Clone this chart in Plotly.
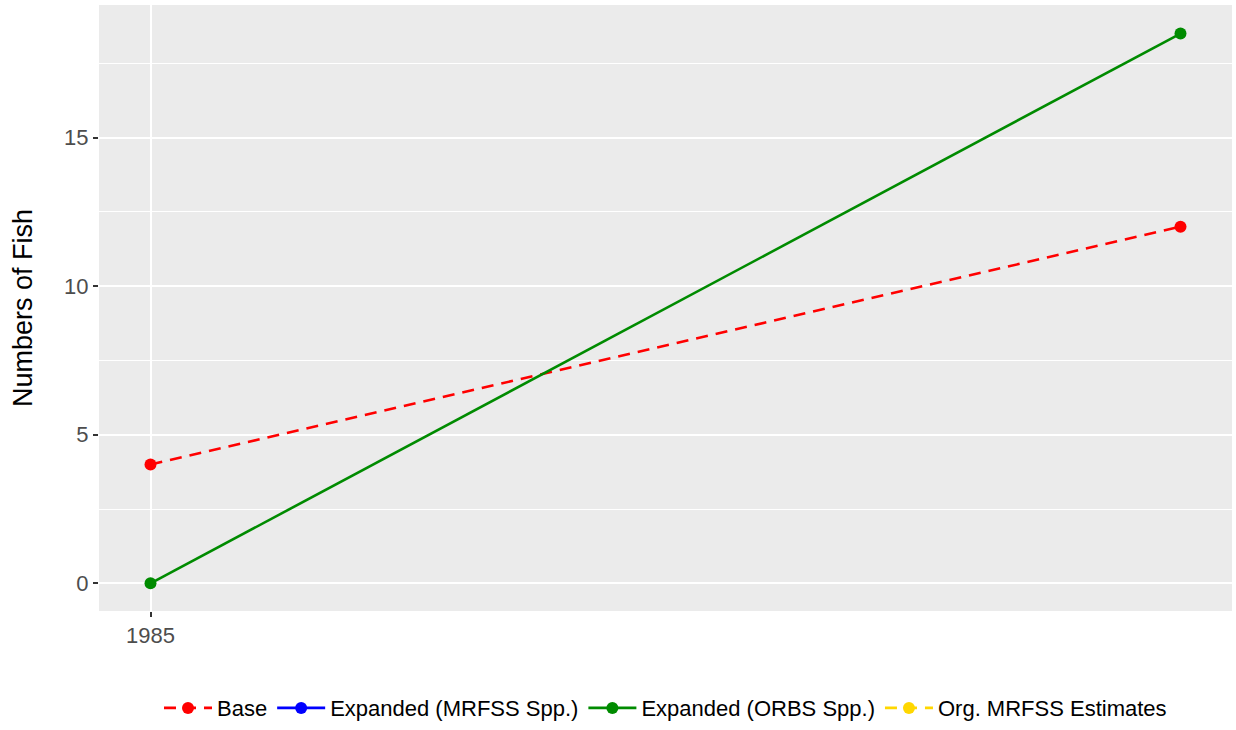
import plotly.graph_objects as go

# Annual estimates of fish numbers by method
years = [1985, 1986]
base = [4.0, 12.0]
expanded_orbs = [0.0, 18.5]
expanded_mrfss = [None]   # no values for this series
org_mrfss = [None]        # no values for this series

FONT = "Liberation Sans, Arial, sans-serif"

fig = go.Figure()

fig.add_trace(go.Scatter(
    x=years, y=base, name="Base", mode="lines+markers",
    line=dict(color="#FF0000", width=2.6, dash="12px,8px"),
    marker=dict(color="#FF0000", size=12),
))
fig.add_trace(go.Scatter(
    x=[None], y=expanded_mrfss, name="Expanded (MRFSS Spp.)", mode="lines+markers",
    line=dict(color="#0000FF", width=2.6),
    marker=dict(color="#0000FF", size=12),
))
fig.add_trace(go.Scatter(
    x=years, y=expanded_orbs, name="Expanded (ORBS Spp.)", mode="lines+markers",
    line=dict(color="#008B00", width=2.6),
    marker=dict(color="#008B00", size=12),
))
fig.add_trace(go.Scatter(
    x=[None], y=org_mrfss, name="Org. MRFSS Estimates", mode="lines+markers",
    line=dict(color="#FFD700", width=2.6, dash="12px,8px"),
    marker=dict(color="#FFD700", size=12),
))

fig.update_layout(
    width=1236, height=730,
    margin=dict(l=99, r=4, t=5, b=119),
    paper_bgcolor="white",
    plot_bgcolor="#EBEBEB",
    font=dict(family=FONT, size=22, color="#000000"),
    showlegend=True,
    legend=dict(
        orientation="h",
        x=0.5, xanchor="center",
        yref="container", y=0.030, yanchor="middle",
        font=dict(family=FONT, size=22, color="#000000"),
        itemwidth=48,
        bgcolor="rgba(0,0,0,0)",
    ),
)

fig.update_xaxes(
    range=[1984.95, 1986.05],
    tick0=1985, dtick=5,
    showgrid=True, gridcolor="white", gridwidth=2,
    zeroline=False, showline=False,
    ticks="outside", ticklen=5, tickcolor="#333333", tickwidth=1.5,
    tickfont=dict(family=FONT, size=22, color="#4D4D4D"),
)

fig.update_yaxes(
    range=[-0.93, 19.46],
    tick0=0, dtick=5,
    showgrid=True, gridcolor="white", gridwidth=2,
    minor=dict(dtick=2.5, showgrid=True, gridcolor="white", gridwidth=1, ticks=""),
    zeroline=False, showline=False,
    ticks="outside", ticklen=5, tickcolor="#333333", tickwidth=1.5,
    tickfont=dict(family=FONT, size=22, color="#4D4D4D"),
    title=dict(text="Numbers of Fish", font=dict(family=FONT, size=27, color="#000000"), standoff=23),
)

fig.write_html("out.html")
